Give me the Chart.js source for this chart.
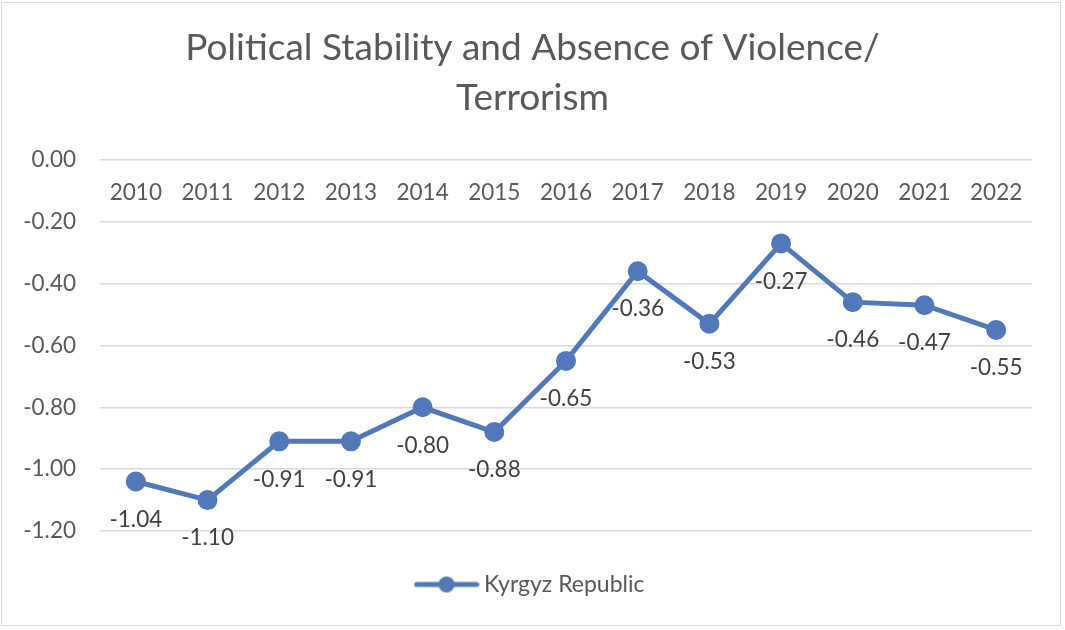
<!DOCTYPE html>
<html>
<head>
<meta charset="utf-8">
<script src="https://cdn.jsdelivr.net/npm/chart.js@4.4.1/dist/chart.umd.min.js"></script>
<style>
  html, body { margin: 0; padding: 0; background: #ffffff; }
  #wrap { position: relative; width: 1065px; height: 630px; }
  #frame { position: absolute; left: 1px; top: 2px; width: 1060px; height: 624px; border: 1px solid #d9d9d9; box-sizing: border-box; pointer-events: none; }
  canvas { display: block; }
</style>
</head>
<body>
<div id="wrap">
  <canvas id="chart" width="1065" height="630"></canvas>
  <div id="frame"></div>
</div>
<script>
// Political Stability and Absence of Violence/Terrorism estimate, Kyrgyz Republic
const years = ['2010', '2011', '2012', '2013', '2014', '2015', '2016', '2017', '2018', '2019', '2020', '2021', '2022'];
const kyrgyzValues = [-1.04, -1.10, -0.91, -0.91, -0.80, -0.88, -0.65, -0.36, -0.53, -0.27, -0.46, -0.47, -0.55];
const yTicks = [0, -0.2, -0.4, -0.6, -0.8, -1.0, -1.2];
const seriesName = 'Kyrgyz Republic';
const titleLines = ['Political Stability and Absence of Violence/', 'Terrorism'];

const FONT = 'Lato, "Open Sans", sans-serif';
const LINE_BLUE = '#5179BA';
const TEXT_GREY = '#595959';
const GRID_GREY = '#d9d9d9';
const SMALL = 22.5;

// legend swatch: a short line with a circle marker in the middle
const swatch = document.createElement('canvas');
swatch.width = 66; swatch.height = 18;
(function () {
  const c = swatch.getContext('2d');
  c.strokeStyle = LINE_BLUE; c.lineWidth = 5; c.lineCap = 'round';
  c.beginPath(); c.moveTo(3, 9); c.lineTo(63, 9); c.stroke();
  c.fillStyle = LINE_BLUE;
  c.beginPath(); c.arc(33, 9, 8, 0, Math.PI * 2); c.fill();
})();

// category labels sit just under the zero line, where the axis crosses at 0
const categoryLabels = {
  id: 'categoryLabels',
  afterDraw(chart) {
    const { ctx, scales } = chart;
    const yZero = scales.y.getPixelForValue(0);
    ctx.save();
    ctx.font = SMALL + 'px ' + FONT;
    ctx.fillStyle = TEXT_GREY;
    ctx.textAlign = 'center';
    ctx.textBaseline = 'middle';
    years.forEach((yr, i) => {
      ctx.fillText(yr, scales.x.getPixelForValue(i), yZero + 33);
    });
    ctx.restore();
  }
};

// value labels under each marker
const valueLabels = {
  id: 'valueLabels',
  afterDatasetsDraw(chart) {
    const { ctx } = chart;
    const meta = chart.getDatasetMeta(0);
    ctx.save();
    ctx.font = SMALL + 'px ' + FONT;
    ctx.fillStyle = '#404040';
    ctx.textAlign = 'center';
    ctx.textBaseline = 'middle';
    meta.data.forEach((pt, i) => {
      const v = chart.data.datasets[0].data[i];
      ctx.fillText(v.toFixed(2), pt.x, pt.y + 38);
    });
    ctx.restore();
  }
};

new Chart(document.getElementById('chart'), {
  type: 'line',
  data: {
    labels: years,
    datasets: [{
      label: seriesName,
      data: kyrgyzValues,
      borderColor: LINE_BLUE,
      backgroundColor: LINE_BLUE,
      borderWidth: 5,
      pointRadius: 7.5,
      pointHoverRadius: 7.5,
      pointBackgroundColor: LINE_BLUE,
      pointBorderColor: LINE_BLUE,
      tension: 0,
      fill: false
    }]
  },
  options: {
    responsive: false,
    animation: false,
    devicePixelRatio: 1,
    layout: { padding: { left: 0, right: 0, top: 0, bottom: 24 } },
    scales: {
      x: {
        position: 'bottom',
        offset: true,
        grid: { display: false, drawTicks: false },
        border: { display: false },
        ticks: { display: false },
        afterFit(scale) { scale.height = 32; }
      },
      y: {
        min: -1.2,
        max: 0,
        afterBuildTicks(scale) { scale.ticks = yTicks.map(v => ({ value: v })); },
        afterFit(scale) { scale.width = 100; },
        grid: { color: GRID_GREY, lineWidth: 1.5, drawTicks: false },
        border: { display: false },
        ticks: {
          padding: 24,
          color: TEXT_GREY,
          font: { family: FONT, size: SMALL },
          callback: v => v.toFixed(2)
        }
      },
      // empty right-hand margin so the title and legend stay centred on the canvas
      yRight: {
        position: 'right',
        min: -1.2,
        max: 0,
        grid: { display: false, drawTicks: false },
        border: { display: false },
        ticks: { display: false },
        afterFit(scale) { scale.width = 33; }
      }
    },
    plugins: {
      title: {
        display: true,
        text: titleLines,
        color: TEXT_GREY,
        font: { family: FONT, size: 37, weight: 'normal', lineHeight: 1.35 },
        padding: { top: 23, bottom: 37 }
      },
      legend: {
        display: true,
        position: 'bottom',
        labels: {
          usePointStyle: true,
          pointStyle: swatch,
          pointStyleWidth: 52,
          boxHeight: 18,
          color: TEXT_GREY,
          font: { family: FONT, size: 23 },
          padding: 10
        }
      },
      tooltip: { enabled: false }
    }
  },
  plugins: [categoryLabels, valueLabels]
});
</script>
</body>
</html>
